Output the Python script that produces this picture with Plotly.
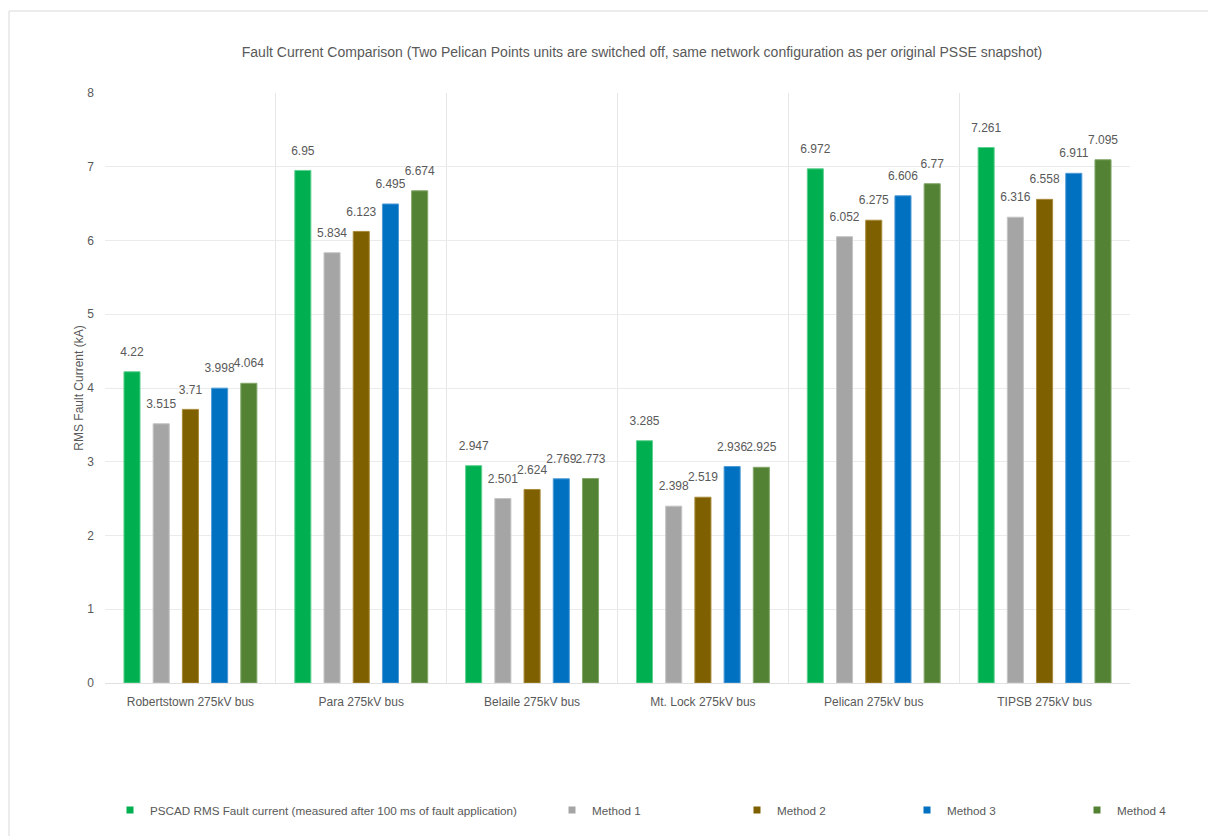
import plotly.graph_objects as go

# Bus locations on the category axis
buses = [
    "Robertstown 275kV bus",
    "Para 275kV bus",
    "Belaile 275kV bus",
    "Mt. Lock 275kV bus",
    "Pelican 275kV bus",
    "TIPSB 275kV bus",
]

# RMS fault current (kA) for each method
pscad = [4.22, 6.95, 2.947, 3.285, 6.972, 7.261]
method1 = [3.515, 5.834, 2.501, 2.398, 6.052, 6.316]
method2 = [3.71, 6.123, 2.624, 2.519, 6.275, 6.558]
method3 = [3.998, 6.495, 2.769, 2.936, 6.606, 6.911]
method4 = [4.064, 6.674, 2.773, 2.925, 6.77, 7.095]

series_names = [
    "PSCAD RMS Fault current (measured after 100 ms of fault application)",
    "Method 1",
    "Method 2",
    "Method 3",
    "Method 4",
]
series_values = [pscad, method1, method2, method3, method4]
fill_colors = ["#00B050", "#A5A5A5", "#7F6000", "#0070C0", "#548235"]
edge_colors = ["#5FD08F", "#C4C4C4", "#A88A3A", "#4D9BD6", "#84A86A"]

# x (pixels) where each legend block starts
legend_px = [110, 552, 737, 907, 1077]

W, H = 1208, 836
L, R, T, B = 105, 78, 93, 153
PW = W - L - R
PH = H - T - B
GAP = 0.145


def px_to_xpaper(px):
    return (px - L) / PW


def py_to_ypaper(py):
    return (T + PH - py) / PH


TXT = "#595959"
FONT = "Liberation Sans, Arial, sans-serif"

fig = go.Figure()

for i, (name, vals) in enumerate(zip(series_names, series_values)):
    fig.add_trace(go.Bar(
        x=buses,
        y=vals,
        name=name,
        marker=dict(color=fill_colors[i], line=dict(color=edge_colors[i], width=1)),
        alignmentgroup="main", offsetgroup=f"s{i}",
        showlegend=False,
    ))

# value labels, sharing each bar's offset group so they sit above it
for i, (name, vals) in enumerate(zip(series_names, series_values)):
    fig.add_trace(go.Scatter(
        x=buses,
        y=vals,
        mode="markers+text",
        marker=dict(size=19, opacity=0, color=fill_colors[i]),
        text=[f"{v:g}" for v in vals],
        textposition="top center",
        textfont=dict(size=12, color=TXT, family=FONT),
        alignmentgroup="main", offsetgroup=f"s{i}",
        cliponaxis=False,
        showlegend=False,
        hoverinfo="skip",
    ))

# small square swatches for the legend entries
for i, name in enumerate(series_names):
    lg = "legend" if i == 0 else f"legend{i + 1}"
    fig.add_trace(go.Scatter(
        x=[None], y=[None], mode="markers", name=name,
        marker=dict(symbol="square", size=7, color=fill_colors[i]),
        alignmentgroup="main", offsetgroup=f"s{i}",
        legend=lg, showlegend=True,
    ))

layout_legends = {}
for i, px in enumerate(legend_px):
    key = "legend" if i == 0 else f"legend{i + 1}"
    layout_legends[key] = dict(
        x=px_to_xpaper(px), xref="paper", xanchor="left",
        y=py_to_ypaper(810), yref="paper", yanchor="middle",
        orientation="h",
        font=dict(size=11.7, color=TXT, family=FONT),
        bgcolor="rgba(0,0,0,0)",
        itemwidth=30,
    )

fig.update_layout(
    width=W, height=H,
    margin=dict(l=L, r=R, t=T, b=B),
    paper_bgcolor="white",
    plot_bgcolor="white",
    font=dict(family=FONT, color=TXT, size=12),
    barmode="group",
    bargap=GAP,
    bargroupgap=0.45,
    scattermode="group",
    scattergap=GAP,
    title=dict(
        text="Fault Current Comparison (Two Pelican Points units are switched off, same network configuration as per original PSSE snapshot)",
        x=642 / W, xanchor="center", xref="container",
        y=1 - 52 / H, yanchor="middle", yref="container",
        font=dict(size=14, color=TXT, family=FONT),
    ),
    xaxis=dict(
        type="category",
        tickson="boundaries",
        showgrid=True, gridcolor="#E6E6E6", gridwidth=1,
        ticks="", showline=False,
        ticklabelstandoff=10,
        tickfont=dict(size=12, color=TXT, family=FONT),
    ),
    yaxis=dict(
        range=[0, 8], dtick=1,
        showgrid=True, gridcolor="#EBEBEB", gridwidth=1,
        zeroline=True, zerolinecolor="#E0E0E0", zerolinewidth=1,
        ticks="", showline=False,
        ticklabelstandoff=10,
        tickfont=dict(size=12, color=TXT, family=FONT),
        title=dict(text="RMS Fault Current (kA)", font=dict(size=12, color=TXT, family=FONT), standoff=1),
    ),
    **layout_legends,
)

# thin chart-area frame (top and left edges fall inside the page)
fig.add_shape(
    type="rect", xref="paper", yref="paper",
    x0=px_to_xpaper(9), x1=px_to_xpaper(W + 10),
    y0=py_to_ypaper(H + 10), y1=py_to_ypaper(11),
    line=dict(color="#D9D9D9", width=1), fillcolor="rgba(0,0,0,0)",
    layer="below",
)

fig.write_html("out.html")
